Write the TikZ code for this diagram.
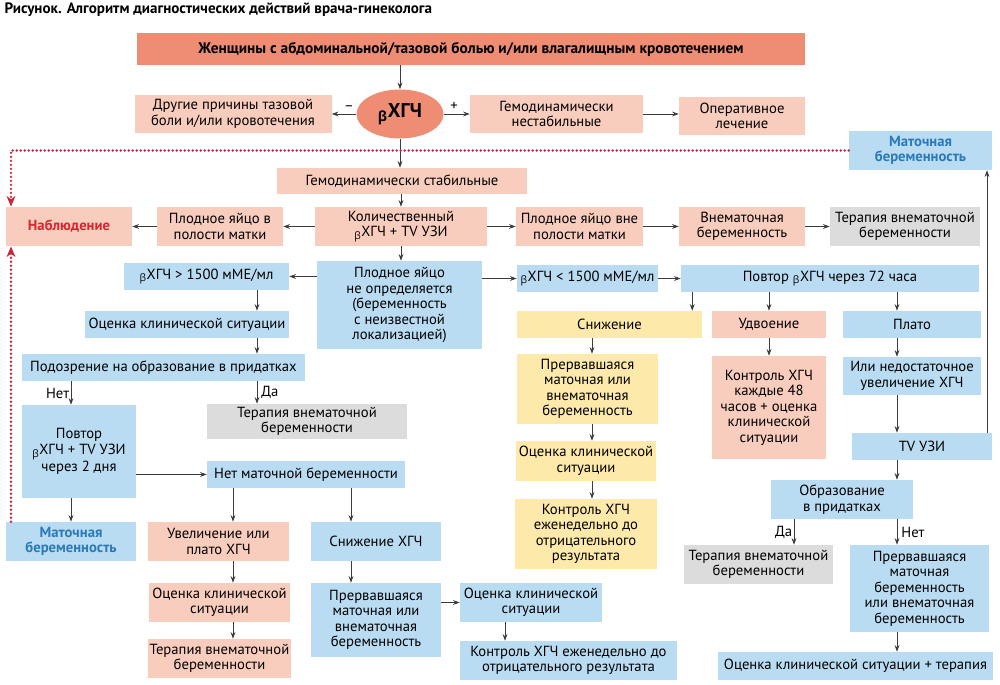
\documentclass[tikz,border=0pt]{standalone}
\usepackage{fontspec}
\setmainfont{PT Sans}
\newfontfamily\grkfont{Open Sans}
\usepackage{tikz}
\usetikzlibrary{positioning,shapes.geometric,arrows.meta}

\definecolor{salmonD}{HTML}{EF8C74}
\definecolor{salmonL}{HTML}{F9CDBE}
\definecolor{blueL}{HTML}{BADCF2}
\definecolor{yellowL}{HTML}{FDE9A9}
\definecolor{grayL}{HTML}{DCDCDC}
\definecolor{arrowC}{HTML}{3C3C3C}
\definecolor{redT}{HTML}{D7262E}
\definecolor{dotC}{HTML}{C8283A}
\definecolor{blueT}{HTML}{2A7AB8}

\newcommand{\boxfont}{\fontsize{11}{11.6}\selectfont}
\newcommand{\bhcg}{\textsubscript{\grkfont β}ХГЧ}

\begin{document}
\begin{tikzpicture}[
            x=0.75pt, y=-0.75pt,
            >={Stealth[length=5pt,width=3.6pt]},
            every node/.style={align=center, font=\boxfont, inner sep=1pt},
            wh/.style 2 args={minimum width=#1*0.75pt, minimum height=#2*0.75pt},
            box/.style={rectangle},
            dark box/.style={box, fill=salmonD},
            pink box/.style={box, fill=salmonL},
            blue box/.style={box, fill=blueL},
            yellow box/.style={box, fill=yellowL},
            gray box/.style={box, fill=grayL},
            key text/.style={font=\boxfont\bfseries},
            arr/.style={->, draw=arrowC, line width=0.6pt},
            dots/.style={draw=dotC, line width=1.9pt, line cap=round, dash pattern=on 0pt off 3pt, -{Stealth[length=8pt,width=6.5pt,inset=2.5pt]}}
    ]
        \useasboundingbox (0,0) rectangle (1000,685);

        % Title
        \node[anchor=west, font=\fontsize{11.3}{12}\selectfont\bfseries] (title) at (3,10) {Рисунок. Алгоритм диагностических действий врача-гинеколога};

        % Columns for the connectors
        \coordinate (dotcol) at (11,0);
        \coordinate (ncol) at (71,0);
        \coordinate (mcol) at (233,0);
        \coordinate (lcol) at (257,0);
        \coordinate (scol) at (351,0);
        \coordinate (ccol) at (505,0);
        \coordinate (ycol) at (592,0);
        \coordinate (dcol) at (794,0);
        \coordinate (rcol) at (897,0);
        \coordinate (upcol) at (987,0);

        % Top
        \node[dark box, font=\fontsize{11.5}{12}\selectfont\bfseries, wh={668}{32}] (top) at (471,49) {Женщины с абдоминальной/тазовой болью и/или влагалищным кровотечением};
        \node[ellipse, fill=salmonD, inner sep=0pt, wh={87}{49}, font=\fontsize{15}{16}\selectfont\bfseries] (hcg) at (400,114) {\bhcg};
        \node[pink box, wh={197}{38}] (other) at (233,114) {Другие причины тазовой\\боли и/или кровотечения};
        \node[pink box, wh={173}{38}] (unstable) at (556.5,114) {Гемодинамически\\нестабильные};
        \node[pink box, wh={126}{38}] (operative) at (742,116) {Оперативное\\лечение};
        \node[blue box, key text, text=blueT, wh={143}{39}] (mat1) at (920.5,150.5) {Маточная\\беременность};

        % Stable branch
        \node[pink box, wh={250}{26}] (stable) at (402,181) {Гемодинамически стабильные};
        \node[pink box, key text, text=redT, wh={126}{39}] (nabl) at (69,226.5) {Наблюдение};
        \node[pink box, wh={126}{39}] (inuterus) at (220,226.5) {Плодное яйцо в\\полости матки};
        \node[pink box, wh={172}{39}] (quant) at (401,226.5) {Количественный\\\bhcg{} + TV УЗИ};
        \node[pink box, wh={127}{39}] (outside) at (579.5,226.5) {Плодное яйцо вне\\полости матки};
        \node[pink box, wh={126}{39}] (ectopic) at (742,226.5) {Внематочная\\беременность};
        \node[gray box, wh={150}{39}] (therapy1) at (905,226.5) {Терапия внематочной\\беременности};

        % Unknown location
        \node[blue box, wh={165}{27}] (gt) at (206.5,276.5) {\bhcg{} > 1500 мМЕ/мл};
        \node[blue box, wh={165}{88}] (unknown) at (399.5,305) {Плодное яйцо\\не определяется\\(беременность\\с неизвестной\\локализацией)};
        \node[blue box, wh={141}{27}] (lt) at (587.5,278.5) {\bhcg{} < 1500 мМЕ/мл};
        \node[blue box, wh={298}{27}] (rep72) at (830,278.5) {Повтор \bhcg{} через 72 часа};

        % Right part
        \node[yellow box, wh={185}{27}] (decr) at (609.5,324.5) {Снижение};
        \node[pink box, wh={114}{27}] (doubl) at (769,324.5) {Удвоение};
        \node[blue box, wh={138}{27}] (plat) at (912,324.5) {Плато};
        \node[yellow box, wh={141}{70}] (rupt1) at (587.5,389) {Прервавшаяся\\маточная или\\внематочная\\беременность};
        \node[pink box, wh={114}{103}] (ctrl48) at (769,407.5) {Контроль ХГЧ\\каждые 48\\часов + оценка\\клинической\\ситуации};
        \node[blue box, wh={138}{38}] (insuf) at (912,376) {Или недостаточное\\увеличение ХГЧ};
        \node[yellow box, wh={140}{40}] (clin2) at (586,461) {Оценка клинической\\ситуации};
        \node[yellow box, wh={142}{70}] (ctrl1) at (586,534) {Контроль ХГЧ\\еженедельно до\\отрицательного\\результата};
        \node[blue box, wh={140}{27}] (tvuzi) at (922,446.5) {TV УЗИ};
        \node[blue box, wh={142}{39}] (form) at (842,499.5) {Образование\\в придатках};
        \node[gray box, wh={149}{39}] (therapy4) at (758.5,564.5) {Терапия внематочной\\беременности};
        \node[blue box, wh={139}{87}] (rupt3) at (919.5,588.5) {Прервавшаяся\\маточная\\беременность\\или внематочная\\беременность};
        \node[blue box, wh={275}{28}] (final) at (855.5,666) {Оценка клинической ситуации + терапия};

        % Left part
        \node[blue box, wh={204}{27}] (clin1) at (187,324.5) {Оценка клинической ситуации};
        \node[blue box, wh={283}{27}] (susp) at (163.5,367.5) {Подозрение на образование в придатках};
        \node[gray box, wh={200}{35}] (therapy2) at (307,421.5) {Терапия внематочной\\беременности};
        \node[blue box, wh={114}{93}] (rep2) at (79,451.5) {Повтор\\\bhcg{} + TV УЗИ\\через 2 дня};
        \node[blue box, wh={198}{27}] (nouter) at (306,474.5) {Нет маточной беременности};
        \node[blue box, key text, text=blueT, wh={130}{39}] (mat2) at (71,541.5) {Маточная\\беременность};
        \node[pink box, wh={141}{39}] (incr) at (218.5,541.5) {Увеличение или\\плато ХГЧ};
        \node[blue box, wh={130}{39}] (decrh) at (376,541.5) {Снижение ХГЧ};
        \node[pink box, wh={141}{39}] (clin3) at (219.5,602.5) {Оценка клинической\\ситуации};
        \node[pink box, wh={141}{39}] (therapy3) at (219.5,658.5) {Терапия внематочной\\беременности};
        \node[blue box, wh={130}{74}] (rupt2) at (376,620) {Прервавшаяся\\маточная или\\внематочная\\беременность};
        \node[blue box, wh={142}{39}] (clin4) at (531,602.5) {Оценка клинической\\ситуации};
        \node[blue box, wh={217}{39}] (ctrl2) at (568.5,660.5) {Контроль ХГЧ еженедельно до\\отрицательного результата};

        % Arrows
        \draw[arr] (hcg |- top.south) -- (hcg.north);
        \draw[arr] (hcg.west) -- node[pos=0.3, above=1pt] {--} (other.east);
        \draw[arr] (hcg.east) -- node[pos=0.4, above=1pt] {+} (unstable.west);
        \draw[arr] (unstable.east) -- (unstable.east -| operative.west);
        \draw[arr] (hcg.south) -- (hcg |- stable.north);
        \draw[arr] (quant.north |- stable.south) -- (quant.north);

        \draw[arr] (quant.west) -- (inuterus.east);
        \draw[arr] (inuterus.west) -- (nabl.east);
        \draw[arr] (quant.east) -- (outside.west);
        \draw[arr] (outside.east) -- (ectopic.west);
        \draw[arr] (ectopic.east) -- (therapy1.west);
        \draw[arr] (quant.south) -- (quant.south |- unknown.north);

        \draw[arr] (unknown.west |- gt) -- (gt.east);
        \draw[arr] (unknown.east |- lt) -- (lt.west);
        \draw[arr] (lt.east) -- (rep72.west);

        \draw[arr] ([xshift=-7.5pt]decr.north east |- rep72.south) -- ([xshift=-7.5pt]decr.north east);
        \draw[arr] (doubl |- rep72.south) -- (doubl.north);
        \draw[arr] (rcol |- rep72.south) -- (rcol |- plat.north);
        \draw[arr] (ycol |- decr.south) -- (ycol |- rupt1.north);
        \draw[arr] (ycol |- rupt1.south) -- (ycol |- clin2.north);
        \draw[arr] (ycol |- clin2.south) -- (ycol |- ctrl1.north);
        \draw[arr] (doubl.south) -- (ctrl48.north);
        \draw[arr] (rcol |- plat.south) -- (rcol |- insuf.north);
        \draw[arr] (rcol |- insuf.south) -- (rcol |- tvuzi.north);
        \draw[arr] (rcol |- tvuzi.south) -- (rcol |- form.north);
        \draw[arr] (upcol |- tvuzi.north) -- (upcol |- mat1.south);
        \draw[arr] (dcol |- form.south) -- node[left] {Да} (dcol |- therapy4.north);
        \draw[arr] (rcol |- form.south) -- node[right=2pt] {Нет} (rcol |- rupt3.north);
        \draw[arr] (rcol |- rupt3.south) -- (rcol |- final.north);

        \draw[arr] (lcol |- gt.south) -- (lcol |- clin1.north);
        \draw[arr] (lcol |- clin1.south) -- (lcol |- susp.north);
        \draw[arr] (lcol |- susp.south) -- node[right=2pt] {Да} (lcol |- therapy2.north);
        \draw[arr] (ncol |- susp.south) -- node[left] {Нет} (ncol |- rep2.north);
        \draw[arr] (rep2.east |- nouter) -- (nouter.west);
        \draw[arr] (ncol |- rep2.south) -- (ncol |- mat2.north);
        \draw[arr] (mcol |- nouter.south) -- (mcol |- incr.north);
        \draw[arr] (scol |- nouter.south) -- (scol |- decrh.north);
        \draw[arr] (mcol |- incr.south) -- (mcol |- clin3.north);
        \draw[arr] (mcol |- clin3.south) -- (mcol |- therapy3.north);
        \draw[arr] (scol |- decrh.south) -- (scol |- rupt2.north);
        \draw[arr] (rupt2.east |- clin4) -- (clin4.west);
        \draw[arr] (ccol |- clin4.south) -- (ccol |- ctrl2.north);

        % Observation loops
        \draw[dots] (mat1.west) -| (dotcol |- nabl.north);
        \draw[dots] (dotcol |- mat2.north) -- (dotcol |- nabl.south);

    \end{tikzpicture}
\end{document}
